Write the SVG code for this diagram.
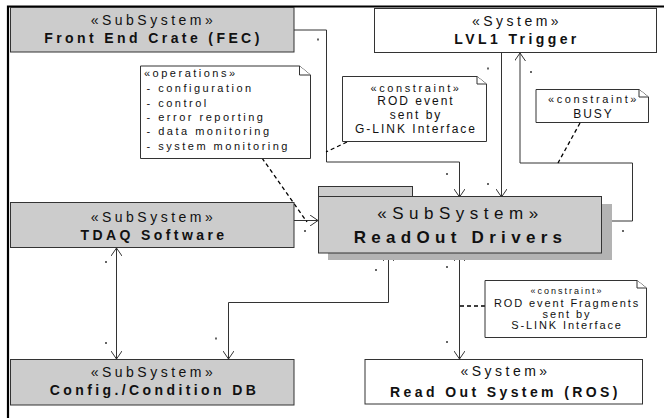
<svg xmlns="http://www.w3.org/2000/svg" width="664" height="418" viewBox="0 0 664 418">
<defs>
<style>
.frame{stroke:#000;stroke-width:2.2;fill:none}
.box{fill:#cccccc;stroke:#333;stroke-width:1}
.wbox{fill:#fff;stroke:#333;stroke-width:1}
.shadow{fill:#b3b3b3;stroke:none}
.note{fill:#fff;stroke:#333;stroke-width:1}
.conn{fill:none;stroke:#333;stroke-width:1}
.dash{fill:none;stroke:#000;stroke-width:1.3;stroke-dasharray:4 3}
.dot{fill:#666}
text{font-family:"Liberation Sans",Arial,sans-serif;fill:#111}
.st{font-size:14px;letter-spacing:3.5px;text-anchor:middle}
.nm{font-size:14px;font-weight:bold;letter-spacing:3.4px;text-anchor:middle}
.bst{font-size:17px;letter-spacing:5.5px;text-anchor:middle}
.bnm{font-size:17px;font-weight:bold;letter-spacing:5.3px;text-anchor:middle}
.ops{font-size:11px;letter-spacing:2.5px}
.c11{font-size:11px;letter-spacing:2.6px;text-anchor:middle}
.c12{font-size:12px;letter-spacing:2px;text-anchor:middle}
.c9{font-size:9px;letter-spacing:2px;text-anchor:middle}
.c11b{font-size:11px;letter-spacing:1.9px;text-anchor:middle}
</style>
<marker id="arr" viewBox="0 0 8 11" refX="8" refY="5.5" markerWidth="8" markerHeight="11" markerUnits="userSpaceOnUse" orient="auto-start-reverse">
<path d="M0,0 L8,5.5 L0,11" fill="none" stroke="#333" stroke-width="1"/>
</marker>
</defs>
<rect width="664" height="418" fill="#fff"/>
<path class="frame" d="M8,418 V6.5 H664"/>

<g id="connectors">
<path class="conn" d="M294,30 H326.5 V162 H459.5 V197" marker-end="url(#arr)"/>
<path class="conn" d="M501.5,53 V197" marker-end="url(#arr)"/>
<path class="conn" d="M602,221 H632.5 V163 H520 V53" marker-end="url(#arr)"/>
<path class="conn" d="M294,220.5 H318" marker-end="url(#arr)"/>
<path class="conn" d="M116.5,248 V359" marker-start="url(#arr)" marker-end="url(#arr)"/>
<path class="conn" d="M388.5,253 V302.5 H228.5 V359" marker-start="url(#arr)" marker-end="url(#arr)"/>
<path class="conn" d="M459.5,253 V359" marker-start="url(#arr)" marker-end="url(#arr)"/>
<path class="dash" d="M262,158 L307,222"/>
<path class="dash" d="M347,142 L326,152"/>
<path class="dash" d="M580,123 L558,163"/>
<path class="dash" d="M485,306 H460"/>
<rect class="dot" x="317" y="38.5" width="2" height="2"/>
<rect class="dot" x="487" y="67.5" width="2" height="2"/>
<rect class="dot" x="530" y="71" width="2" height="2"/>
<rect class="dot" x="446" y="173" width="2" height="2"/>
<rect class="dot" x="487" y="183" width="2" height="2"/>
<rect class="dot" x="622" y="230" width="2" height="2"/>
<rect class="dot" x="304" y="230" width="2" height="2"/>
<rect class="dot" x="375" y="269" width="2" height="2"/>
<rect class="dot" x="446" y="266" width="2" height="2"/>
<rect class="dot" x="105" y="261" width="2" height="2"/>
<rect class="dot" x="105" y="342" width="2" height="2"/>
<rect class="dot" x="215" y="337.5" width="2" height="2"/>
<rect class="dot" x="446" y="341" width="2" height="2"/>
</g>

<g id="fec">
<rect class="box" x="10.5" y="7.5" width="283.5" height="44.5"/>
<text class="st" x="153.5" y="25">«SubSystem»</text>
<text class="nm" x="153.5" y="43">Front End Crate (FEC)</text>
</g>

<g id="lvl1">
<rect class="wbox" x="374.5" y="8.5" width="282" height="44"/>
<text class="st" x="517" y="26">«System»</text>
<text class="nm" x="517" y="44">LVL1 Trigger</text>
</g>

<g id="tdaq">
<rect class="box" x="10.5" y="202.5" width="283.5" height="45"/>
<text class="st" x="153.5" y="221.5">«SubSystem»</text>
<text class="nm" x="154" y="240">TDAQ Software</text>
</g>

<g id="rod">
<rect class="shadow" x="328" y="204" width="284" height="56"/>
<rect class="box" x="318.5" y="186.5" width="94" height="10.5"/>
<rect class="box" x="318.5" y="196.5" width="283" height="56.5"/>
<text class="bst" x="460.5" y="219">«SubSystem»</text>
<text class="bnm" x="460.5" y="243">ReadOut Drivers</text>
</g>

<g id="config">
<rect class="box" x="10.5" y="359.5" width="283.5" height="45.5"/>
<text class="st" x="153.5" y="376.5">«SubSystem»</text>
<text class="nm" x="154.5" y="395">Config./Condition DB</text>
</g>

<g id="ros">
<rect class="wbox" x="365" y="359.5" width="277.5" height="44.5"/>
<text class="st" x="505.5" y="375.5">«System»</text>
<text class="nm" x="505.5" y="396.5">Read Out System (ROS)</text>
</g>

<g id="note-operations">
<path class="note" d="M140.5,66 H299.5 L310.5,75 V158.5 H140.5 Z"/>
<path class="note" d="M299.5,66 V75 H310.5"/>
<text class="ops" x="144" y="76.5">«operations»</text>
<text class="ops" x="146.5" y="92">- configuration</text>
<text class="ops" x="146.5" y="106.5">- control</text>
<text class="ops" x="146.5" y="120.5">- error reporting</text>
<text class="ops" x="146.5" y="135">- data monitoring</text>
<text class="ops" x="146.5" y="150">- system monitoring</text>
</g>

<g id="note-glink">
<path class="note" d="M342.5,76.5 H477 L486.5,84 V141.5 H342.5 Z"/>
<path class="note" d="M477,76.5 V84 H486.5"/>
<text class="c11" x="416" y="91.5">«constraint»</text>
<text class="c12" x="416" y="104.5">ROD event</text>
<text class="c12" x="416" y="119">sent by</text>
<text class="c12" x="416" y="133">G-LINK Interface</text>
</g>

<g id="note-busy">
<path class="note" d="M536,89.5 H639 L648.5,97 V122.5 H536 Z"/>
<path class="note" d="M639,89.5 V97 H648.5"/>
<text class="c11" x="593.5" y="102.5">«constraint»</text>
<text class="c12" x="593.5" y="118">BUSY</text>
</g>

<g id="note-slink">
<path class="note" d="M485,280.5 H637 L646.5,288 V337.5 H485 Z"/>
<path class="note" d="M637,280.5 V288 H646.5"/>
<text class="c9" x="567" y="294">«constraint»</text>
<text class="c11b" x="567" y="306.5">ROD event Fragments</text>
<text class="c11b" x="567" y="317.5">sent by</text>
<text class="c11b" x="567" y="329">S-LINK Interface</text>
</g>
</svg>
